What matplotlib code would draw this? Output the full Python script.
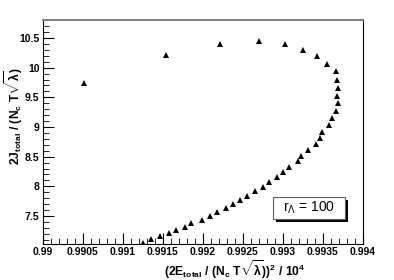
import numpy as np
import matplotlib
matplotlib.use("Agg")
import matplotlib.pyplot as plt
from matplotlib.ticker import MultipleLocator, FuncFormatter
from matplotlib.patches import Rectangle

# puntos (E, J)
energy = [0.991246, 0.99135, 0.991463, 0.991581, 0.991665, 0.991775, 0.99185,
          0.991984, 0.992091, 0.992179, 0.992284, 0.992371, 0.992466, 0.992554,
          0.992654, 0.992744, 0.992825, 0.992919, 0.993004, 0.993079, 0.993184,
          0.993229, 0.993316, 0.993413, 0.993463, 0.993488, 0.993571, 0.993616,
          0.993659, 0.993684, 0.993679, 0.993688, 0.993675, 0.993666, 0.993554,
          0.993431, 0.99325, 0.993029, 0.9927, 0.992213, 0.991538, 0.990513]
spin = [7.045, 7.107, 7.158, 7.210, 7.264, 7.315, 7.374, 7.438, 7.505, 7.567,
        7.635, 7.702, 7.770, 7.842, 7.916, 7.989, 8.076, 8.154, 8.237, 8.326,
        8.422, 8.511, 8.607, 8.714, 8.815, 8.916, 9.037, 9.152, 9.275, 9.405,
        9.528, 9.662, 9.797, 9.949, 10.067, 10.197, 10.298, 10.399, 10.450,
        10.399, 10.214, 9.742]
legend_text = r"r$_\Lambda$ = 100"

plt.rcParams['font.family'] = ['Liberation Sans', 'DejaVu Sans']
plt.rcParams['mathtext.fontset'] = 'custom'
plt.rcParams['mathtext.rm'] = 'Liberation Sans'
plt.rcParams['mathtext.it'] = 'Liberation Sans'
plt.rcParams['mathtext.bf'] = 'Liberation Sans:bold'

fig = plt.figure(figsize=(3.94, 2.80), dpi=100)
ax = fig.add_axes([0.1091, 0.1286, 0.8122, 0.8])

ax.plot(energy, spin, linestyle='none', marker='^', markersize=4.5,
        color='black', markeredgewidth=0)

ax.set_xlim(0.99, 0.994)
ax.set_ylim(7.028, 10.803)

ax.xaxis.set_major_locator(MultipleLocator(0.0005))
ax.xaxis.set_minor_locator(MultipleLocator(0.0001))
ax.yaxis.set_major_locator(MultipleLocator(0.5))
ax.yaxis.set_minor_locator(MultipleLocator(0.1))
fmt = FuncFormatter(lambda v, p: '%g' % round(v, 6))
ax.xaxis.set_major_formatter(fmt)
ax.yaxis.set_major_formatter(fmt)

ax.tick_params(which='both', direction='in', top=False, right=False,
               labelsize=7.5, pad=2.5)
ax.tick_params(which='major', length=8, width=0.8)
ax.tick_params(which='minor', length=4, width=0.6)
for lab in ax.get_xticklabels() + ax.get_yticklabels():
    lab.set_fontweight('bold')

ax.spines['top'].set_color('#808080')
ax.spines['top'].set_linewidth(1.5)
for s in ['left', 'right', 'bottom']:
    ax.spines[s].set_linewidth(0.8)

ax.set_xlabel(r'$\mathbf{(2E_{total}\ /\ (N_c\ T\sqrt{\lambda}))^2\ /\ 10^4}$', fontsize=8.7)
ax.set_ylabel(r'$\mathbf{2J_{total}\ /\ (N_c\ T\sqrt{\lambda})}$', fontsize=8.7)
ax.xaxis.set_label_coords(0.6, -0.062)
ax.yaxis.set_label_coords(-0.055, 0.57)

# caja con sombra
ax.add_patch(Rectangle((0.728, 0.098), 0.225, 0.098, transform=ax.transAxes,
                       facecolor='black', edgecolor='none', zorder=3))
ax.add_patch(Rectangle((0.719, 0.1116), 0.225, 0.098, transform=ax.transAxes,
                       facecolor='white', edgecolor='#606060', linewidth=0.8, zorder=4))
ax.text(0.8315, 0.1606, legend_text, transform=ax.transAxes, fontsize=10,
        ha='center', va='center', zorder=5)

fig.savefig('out.png', dpi=100)
